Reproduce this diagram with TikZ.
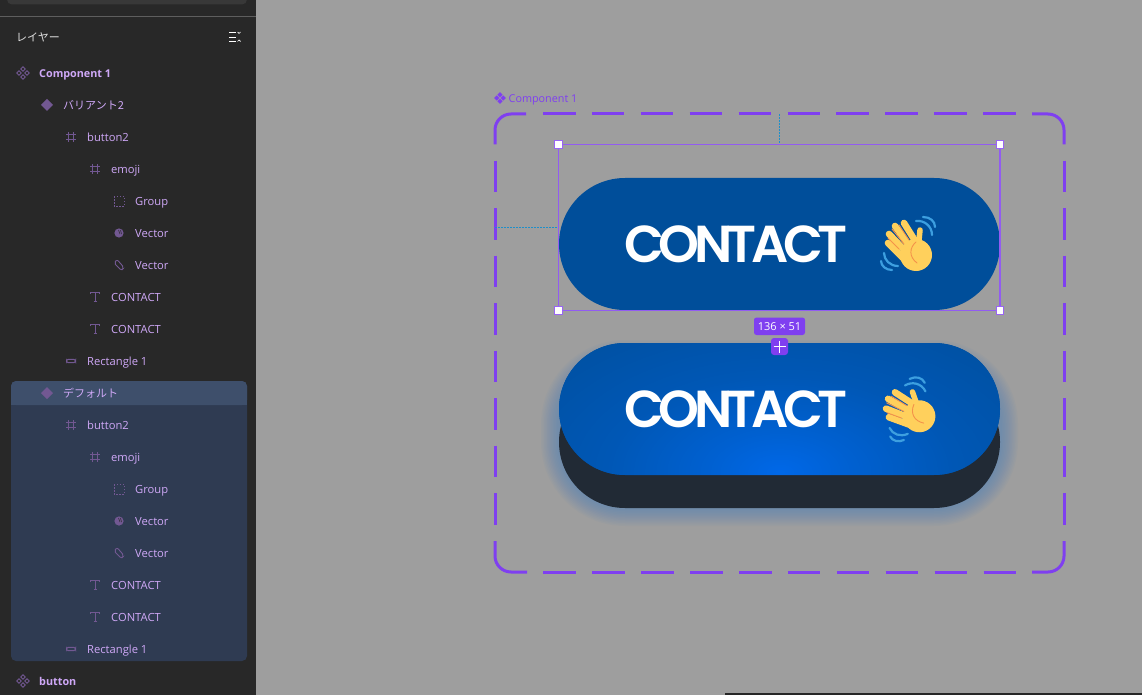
\documentclass[tikz,border=0pt]{standalone}
\usepackage{fontspec}
\setmainfont{Open Sans}
\newfontfamily\jpfont{Noto Sans CJK JP}
\newfontfamily\btnfont[LetterSpace=-10.5]{Poppins SemiBold}
\definecolor{panelbg}{HTML}{282828}
\definecolor{canvasbg}{HTML}{9E9E9E}
\definecolor{rowsel}{HTML}{2F3B52}
\definecolor{rowhead}{HTML}{3E4F6B}
\definecolor{rowtxt}{HTML}{CFA8F7}
\definecolor{rowicon}{HTML}{725892}
\definecolor{accent}{HTML}{7F3FF0}
\definecolor{btnblue}{HTML}{004E9A}
\definecolor{btnglow}{HTML}{0068E8}
\definecolor{btnbase}{HTML}{212A35}
\definecolor{guide}{HTML}{1F8FC9}
\definecolor{handyel}{HTML}{FFD05C}
\definecolor{handline}{HTML}{F4924A}
\definecolor{wavebl}{HTML}{3D9FE0}
\colorlet{btnmida}{btnglow!70!btnblue}
\colorlet{btnmidb}{btnglow!35!btnblue}
\pgfdeclareradialshading{btnshade}{\pgfpointorigin}{color(0bp)=(btnglow); color(5bp)=(btnmida); color(12bp)=(btnmidb); color(25bp)=(btnblue); color(50bp)=(btnblue)}
\tikzset{
  rowlabel/.style={anchor=base west, inner sep=0pt, yshift=-.6pt, text=rowtxt, font=\fontsize{11.2}{13}\selectfont},
  rowbold/.style={rowlabel, font=\fontsize{10.8}{13}\selectfont\bfseries},
  rowjp/.style={rowlabel, font=\fontsize{11}{13}\selectfont\jpfont},
  btnlabel/.style={anchor=base west, inner sep=0pt, text=white, font=\fontsize{52}{60}\selectfont\btnfont},
  handle/.style={draw=accent!80!white, line width=1.2pt, fill=white, minimum size=7.5pt, inner sep=0pt},
  framedash/.style={accent, line width=3pt},
  comp/.pic={
    \foreach \dx/\dy in {-4/0,4/0,0/-4,0/4}
      \draw [rowicon, line width=.9pt, shift={(\dx,\dy)}] (-2.2,0) -- (0,-2.2) -- (2.2,0) -- (0,2.2) -- cycle;
  },
  variant/.pic={\fill [rowicon] (-6,0) -- (0,-6) -- (6,0) -- (0,6) -- cycle;},
  hashframe/.pic={
    \draw [rowicon, line width=.9pt] (-5,-2.5) -- (5,-2.5) (-5,2.5) -- (5,2.5) (-2.5,-5) -- (-2.5,5) (2.5,-5) -- (2.5,5);
  },
  groupbox/.pic={\draw [rowicon, line width=.8pt, dash pattern=on 1.5pt off 1.5pt] (-5,-5) rectangle (5,5);},
  blobvec/.pic={
    \fill [rowicon] (0,0) circle (4.6);
    \draw [panelbg, line width=.5pt] (-.5,-3) -- (1,1) (1.5,-3) -- (2.5,1);
  },
  leafvec/.pic={\draw [rowicon, line width=.9pt, rounded corners=2pt] (-5,-2) -- (-2,-5.5) -- (5,2.5) -- (2.5,5.5) -- cycle;},
  textglyph/.pic={
    \draw [rowicon, line width=.9pt] (-4.5,-3) -- (-4.5,-4.5) -- (4.5,-4.5) -- (4.5,-3) (0,-4.5) -- (0,4.5) (-1.5,4.5) -- (1.5,4.5);
  },
  pillicon/.pic={\draw [rowicon, line width=1pt, rounded corners=2pt] (-4.5,-1.7) rectangle (4.5,1.7);},
  wavehand/.pic={
    \draw [wavebl, line width=2.2pt, line cap=round] (16,-28) .. controls (23,-28) and (28,-24) .. (28,-18);
    \draw [wavebl, line width=2.2pt, line cap=round] (9,-24) .. controls (17,-25) and (25,-19) .. (25,-10);
    \draw [wavebl, line width=2.2pt, line cap=round] (-26,16) .. controls (-26,21) and (-21,25) .. (-15,25);
    \draw [wavebl, line width=2.2pt, line cap=round] (-23,8) .. controls (-23,15) and (-17,21) .. (-9,21);
    \draw [handyel, line width=6.6pt, line cap=round] (-3,-22) -- (12,2);
    \draw [handyel, line width=6.6pt, line cap=round] (-12,-19) -- (6,6);
    \draw [handyel, line width=6.6pt, line cap=round] (-18,-11) -- (2,10);
    \draw [handyel, line width=6.6pt, line cap=round] (-19,-2) -- (-1,16);
    \draw [handyel, line width=5.5pt, line cap=round] (13,-15) -- (11,5);
    \fill [handyel] (9,10) circle (16);
    \draw [handline, line width=.9pt, line cap=round] (-8,-20) -- (2,-5);
    \draw [handline, line width=.9pt, line cap=round] (-15,-16) -- (-3,-1);
    \draw [handline, line width=.9pt, line cap=round] (-19,-7) -- (-8,4);
    \draw [handline, line width=.9pt, line cap=round] (9,-3) .. controls (2,3) and (2,12) .. (10,18);
  }
}
\begin{document}
\begin{tikzpicture}[x=1pt, y=-1pt]
  \useasboundingbox (0,0) rectangle (1142,695);
  \fill [canvasbg] (0,0) rectangle (1142,695);
  \fill [panelbg] (0,0) rectangle (255.5,695);
  \fill [black!85] (725,693) rectangle (1142,695);
  \fill [black!78, rounded corners=5pt] (7,-10) rectangle (247,4.5);
  \draw [white!25!panelbg, line width=1pt] (0,16.5) -- (255.5,16.5);

  \fill [rowsel, rounded corners=5pt] (11,381) rectangle (247,661);
  \fill [rowhead, rounded corners=5pt] (11,381) rectangle (247,405);
  \fill [rowhead] (11,392) rectangle (247,405);

  \node (layerhd) [rowlabel, text=white!88!black, font=\fontsize{11}{13}\selectfont\jpfont] at (16,41) {レイヤー};
  \draw [white, line width=.8pt] (229,32.5) -- (236,32.5) (229,37) -- (236,37) (229,41.5) -- (236,41.5);
  \draw [white, line width=.7pt] (237.5,32) -- (239,33.5) -- (240.5,32) (237.5,41.5) -- (239,40) -- (240.5,41.5);

  \pic at (23,73) {comp};
  \pic at (47,105) {variant};
  \pic at (71,137) {hashframe};
  \pic at (95,169) {hashframe};
  \pic at (119,201) {groupbox};
  \pic at (119,233) {blobvec};
  \pic at (119,265) {leafvec};
  \pic at (95,297) {textglyph};
  \pic at (95,329) {textglyph};
  \pic at (71,361) {pillicon};
  \pic at (47,393) {variant};
  \pic at (71,425) {hashframe};
  \pic at (95,457) {hashframe};
  \pic at (119,489) {groupbox};
  \pic at (119,521) {blobvec};
  \pic at (119,553) {leafvec};
  \pic at (95,585) {textglyph};
  \pic at (95,617) {textglyph};
  \pic at (71,649) {pillicon};
  \pic at (23,681) {comp};

  \node (comp1)  [rowbold] at (39,77)   {Component 1};
  \node (var2)   [rowjp]   at (63,109)  {バリアント2};
  \node (btn2a)  [rowlabel] at (87,141)  {button2};
  \node (emojia) [rowlabel] at (111,173) {emoji};
  \node (groupa) [rowlabel] at (135,205) {Group};
  \node (veca)   [rowlabel] at (135,237) {Vector};
  \node (vecb)   [rowlabel] at (135,269) {Vector};
  \node (conta)  [rowlabel] at (111,301) {CONTACT};
  \node (contb)  [rowlabel] at (111,333) {CONTACT};
  \node (recta)  [rowlabel] at (87,365)  {Rectangle 1};
  \node (vardef) [rowjp]   at (63,397)  {デフォルト};
  \node (btn2b)  [rowlabel] at (87,429)  {button2};
  \node (emojib) [rowlabel] at (111,461) {emoji};
  \node (groupb) [rowlabel] at (135,493) {Group};
  \node (vecc)   [rowlabel] at (135,525) {Vector};
  \node (vecd)   [rowlabel] at (135,557) {Vector};
  \node (contc)  [rowlabel] at (111,589) {CONTACT};
  \node (contd)  [rowlabel] at (111,621) {CONTACT};
  \node (rectb)  [rowlabel] at (87,653)  {Rectangle 1};
  \node (btnrow) [rowbold] at (39,685)  {button};

  \foreach \dx/\dy in {-3.2/0,3.2/0,0/-3.2,0/3.2}
    \fill [accent, shift={(500+\dx,98+\dy)}] (-2.6,0) -- (0,-2.6) -- (2.6,0) -- (0,2.6) -- cycle;
  \node (framelab) [rowlabel, text=accent, font=\fontsize{10.8}{13}\selectfont] at (508.5,102) {Component 1};

  \draw [framedash, dash pattern=on 32.5pt off 16.4pt] (543,114) -- (1032,114);
  \draw [framedash, dash pattern=on 32.5pt off 16.4pt] (543.4,572) -- (1032,572);
  \draw [framedash, dash pattern=on 31.5pt off 16pt] (495,160.7) -- (495,525);
  \draw [framedash, dash pattern=on 31.5pt off 16pt] (1064,160.7) -- (1064,525);
  \draw [framedash, rounded corners=16pt] (495,144.5) -- (495,114) -- (526,114);
  \draw [framedash, rounded corners=16pt] (1032,114) -- (1064,114) -- (1064,144.5);
  \draw [framedash, rounded corners=16pt] (1064,541) -- (1064,572) -- (1032,572);
  \draw [framedash, rounded corners=16pt] (527,572) -- (495,572) -- (495,541);

  \foreach \w in {3,6,...,36}
    \draw [btnglow!75!canvasbg, line width=\w pt, opacity=.036, rounded corners=66pt] (559,358) rectangle (1000,508);
  \fill [btnbase, rounded corners=66pt] (559,376) rectangle (1000,508);
  \begin{scope}
    \clip [rounded corners=66pt] (559,343) rectangle (1000,475);
    \fill [btnblue] (559,343) rectangle (1000,475);
    \shade [shading=btnshade] (780,472) ellipse (360 and 200);
  \end{scope}
  \fill [btnblue, rounded corners=66pt] (559,178) rectangle (1000,310);

  \node (toptext) [btnlabel] at (624,262.5) {CONTACT};
  \node (lowtext) [btnlabel] at (624,427.5) {CONTACT};
  \pic at (907,245) {wavehand};
  \pic [rotate=25] at (907,411) {wavehand};

  \coordinate (topgap) at (779.5,114);
  \coordinate (leftgap) at (495,227.5);
  \draw [accent!85!white, line width=1.2pt] (558.5,144.5) rectangle (1000,310.5);
  \node (hnw) [handle] at (558.5,144.5) {};
  \node (hne) [handle] at (1000,144.5) {};
  \node (hsw) [handle] at (558.5,310.5) {};
  \node (hse) [handle] at (1000,310.5) {};
  \coordinate (seltop) at (779.5,143);
  \coordinate (selleft) at (557,227.5);
  \draw [guide, line width=1pt, dash pattern=on 2pt off 1pt] (topgap) -- (seltop);
  \draw [guide, line width=1pt, dash pattern=on 2pt off 1pt] (leftgap) -- (selleft);

  \fill [accent, rounded corners=2.5pt] (754,317.5) rectangle (805,335);
  \node (sizelab) [text=white, inner sep=0pt, font=\fontsize{11}{12}\selectfont] at (779.5,326.3) {136 × 51};
  \fill [accent, rounded corners=3pt] (771,338) rectangle (788,355);
  \draw [white, line width=1.6pt] (773.5,346.5) -- (785.5,346.5) (779.5,340.5) -- (779.5,352.5);
\end{tikzpicture}
\end{document}
